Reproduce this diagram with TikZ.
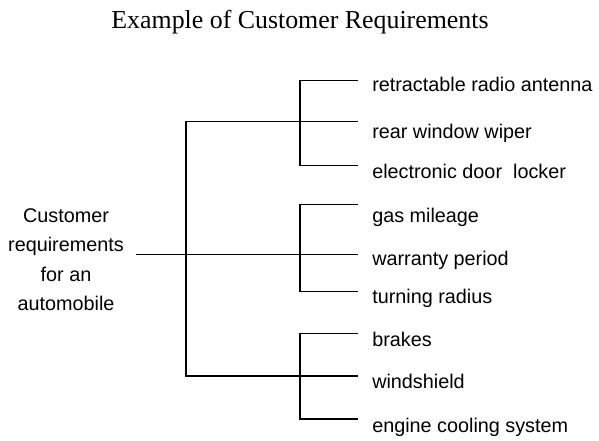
\documentclass[tikz,border=0pt]{standalone}
\usepackage{fontspec}
\setmainfont{Liberation Serif}
\setsansfont{Liberation Sans}
\begin{document}
\begin{tikzpicture}[
        x=0.75pt, y=-0.75pt,
        branch/.style={line width=1pt, line join=miter},
        leaf/.style={font=\sffamily\fontsize{14.85}{17}\selectfont, anchor=base west, inner sep=0pt},
        rootlbl/.style={font=\sffamily\fontsize{14.85}{17}\selectfont, anchor=base, inner sep=0pt},
        titlelbl/.style={font=\fontsize{19.4}{22}\selectfont, anchor=base, inner sep=0pt}]
    \useasboundingbox (0,0) rectangle (599,440);

    % --- Titulo
    \node[titlelbl] (title) at (300,28) {Example of Customer Requirements};

    % --- Raiz
    \node[rootlbl] (root1) at (66,222.3) {Customer};
    \node[rootlbl] (root2) at (66,251.7) {requirements};
    \node[rootlbl] (root3) at (66,281.1) {for an};
    \node[rootlbl] (root4) at (66,310.8) {automobile};
    \coordinate (stub) at (136,254.3);
    \coordinate (hub)  at (186,254.3);

    % --- Nodos de grupo
    \coordinate (grpA) at (300,121.7);
    \coordinate (grpB) at (300,254.3);
    \coordinate (grpC) at (300,376.0);

    % --- Hojas: nombre / linea / base del texto / texto
    \foreach \nm/\ly/\ty/\txt in {
            antenna/80.7/91.7/{retractable radio antenna},
            wiper/121.7/138.3/{rear window wiper},
            locker/165.3/178.3/{electronic door~ locker},
            mileage/204.7/222.3/{gas mileage},
            warranty/254.3/265.0/{warranty period},
            radius/291.7/303.3/{turning radius},
            brakes/333.3/346.0/{brakes},
            shield/376.0/388.3/{windshield},
            cooling/419.0/432.0/{engine cooling system}} {
        \coordinate (\nm-end) at (358,\ly);
        \node[leaf] (\nm) at (372,\ty) {\txt};
    }

    % --- Ramas
    \draw[branch] (stub) -- (hub) -- (grpB);
    \draw[branch] (grpA) -| (hub) |- (grpC);

    \draw[branch] (antenna-end) -| (grpA) |- (locker-end);
    \draw[branch] (grpA) -- (wiper-end);

    \draw[branch] (mileage-end) -| (grpB) |- (radius-end);
    \draw[branch] (grpB) -- (warranty-end);

    \draw[branch] (brakes-end) -| (grpC) |- (cooling-end);
    \draw[branch] (grpC) -- (shield-end);

\end{tikzpicture}
\end{document}
